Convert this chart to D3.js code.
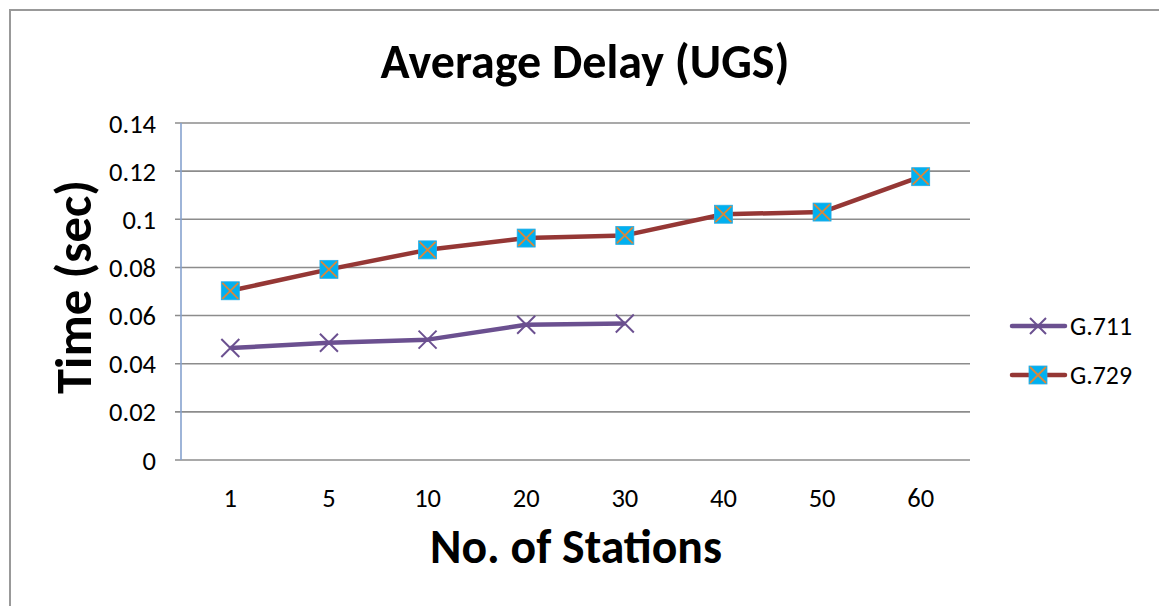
<!DOCTYPE html>
<html><head><meta charset="utf-8">
<script src="https://cdn.jsdelivr.net/npm/d3@7"></script>
<style>body{margin:0;background:#fff}svg{display:block}</style>
</head><body>
<svg id="c" width="1159" height="606"></svg>
<script>
const categories = ["1","5","10","20","30","40","50","60"];
const g711 = [0.0465, 0.0487, 0.0500, 0.0562, 0.0567, null, null, null];
const g729 = [0.0703, 0.0792, 0.0873, 0.0922, 0.0933, 0.1021, 0.1030, 0.1177];
const yTicks = [0, 0.02, 0.04, 0.06, 0.08, 0.1, 0.12, 0.14];
const seriesNames = ["G.711", "G.729"];

const font = "Carlito, Calibri, 'Open Sans', 'Liberation Sans', sans-serif";
const svg = d3.select("#c");
svg.append("rect").attr("x",10).attr("y",10).attr("width",1160).attr("height",610)
  .attr("fill","#fff").attr("stroke","#999").attr("stroke-width",2);

const L=181, R=970, T=123, B=460;
const x = d3.scaleBand().domain(categories).range([L,R]);
const y = d3.scaleLinear().domain([0,0.14]).range([B,T]);

function fit(t, w){ const l=t.node().getComputedTextLength(); const fs=parseFloat(t.attr("font-size")); t.attr("font-size", fs*w/l); }

// gridlines
svg.append("g").selectAll("line").data(yTicks).join("line")
  .attr("x1",L-6).attr("x2",R).attr("y1",d=>y(d)).attr("y2",d=>y(d))
  .attr("stroke","#8c8c8c").attr("stroke-width",1.6);
// left axis
svg.append("line").attr("x1",L).attr("x2",L).attr("y1",T).attr("y2",B)
  .attr("stroke","#86a2cf").attr("stroke-width",1.6);

// y tick labels
const yt = svg.append("g").selectAll("text").data(yTicks).join("text")
  .attr("x",156).attr("y",d=>y(d)).attr("dy","0.36em").attr("text-anchor","end")
  .attr("font-family",font).attr("font-size",20).attr("fill","#000")
  .text(d=>d3.format("")(+d.toFixed(2)));
fit(d3.select(yt.nodes()[7]), 47);
const tfs = d3.select(yt.nodes()[7]).attr("font-size");
yt.attr("font-size", tfs);
// x tick labels
svg.append("g").selectAll("text").data(categories).join("text")
  .attr("x",d=>x(d)+x.bandwidth()/2).attr("y",497).attr("dy","0.36em").attr("text-anchor","middle")
  .attr("font-family",font).attr("font-size",tfs).attr("fill","#000").text(d=>d);

const cx = d=>x(d)+x.bandwidth()/2;
const c711="#6b5090", c729="#953735";
const line = d3.line().defined(d=>d.v!=null).x(d=>cx(d.c)).y(d=>y(d.v));
const d711 = categories.map((c,i)=>({c,v:g711[i]}));
const d729 = categories.map((c,i)=>({c,v:g729[i]}));

svg.append("path").attr("d",line(d729)).attr("fill","none").attr("stroke",c729).attr("stroke-width",4.5).attr("stroke-linejoin","round");
svg.append("path").attr("d",line(d711)).attr("fill","none").attr("stroke",c711).attr("stroke-width",4.5).attr("stroke-linejoin","round");

function xMarker(g, px, py, s, col, w){
  g.append("path").attr("d",`M${px-s},${py-s}L${px+s},${py+s}M${px-s},${py+s}L${px+s},${py-s}`)
   .attr("stroke",col).attr("stroke-width",w).attr("fill","none");
}
function sqMarker(g, px, py){
  g.append("rect").attr("x",px-9).attr("y",py-9).attr("width",18).attr("height",18).attr("fill","#00b0f0").attr("stroke","#29aee6").attr("stroke-width",0.8);
  xMarker(g, px, py, 8, "#d9873a", 1.8);
}
const mk = svg.append("g");
d711.filter(d=>d.v!=null).forEach(d=>xMarker(mk, cx(d.c), y(d.v), 9, c711, 2));
d729.forEach(d=>sqMarker(mk, cx(d.c), y(d.v)));

// legend
const lg = svg.append("g");
[[326,c711,0],[375,c729,1]].forEach(([ly,col,i])=>{
  lg.append("line").attr("x1",1012).attr("x2",1065).attr("y1",ly).attr("y2",ly).attr("stroke",col).attr("stroke-width",4.5).attr("stroke-linecap","round");
  if(i===0) xMarker(lg, 1038, ly, 8, c711, 2); else sqMarker(lg, 1038, ly);
  const t = lg.append("text").attr("x",1070).attr("y",ly).attr("dy","0.36em").attr("font-family",font).attr("font-size",20).text(seriesNames[i]);
  fit(t, 62);
});

const title = svg.append("text").attr("x",585).attr("y",78).attr("text-anchor","middle").attr("font-family",font).attr("font-weight","bold").attr("font-size",38).text("Average Delay (UGS)");
fit(title, 409);
const xl = svg.append("text").attr("x",576).attr("y",563).attr("text-anchor","middle").attr("font-family",font).attr("font-weight","bold").attr("font-size",36).text("No. of Stations");
fit(xl, 292);
const yl = svg.append("text").attr("transform","translate(91,287) rotate(-90)").attr("text-anchor","middle").attr("font-family",font).attr("font-weight","bold").attr("font-size",36).text("Time (sec)");
fit(yl, 214);
</script>
</body></html>
